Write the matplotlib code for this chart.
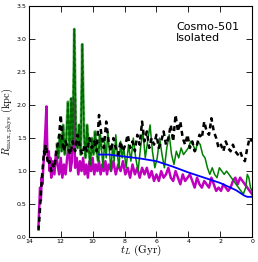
import numpy as np
import matplotlib
matplotlib.use("Agg")
import matplotlib.pyplot as plt

plt.rcParams['mathtext.fontset'] = 'cm'

# black dashed series
t_black = [13.40, 13.35, 13.30, 13.25, 13.20, 13.15, 13.10, 13.05, 13.00, 12.95, 12.90, 12.85,
           12.80, 12.70, 12.60, 12.50, 12.40, 12.30, 12.20, 12.10, 12.00, 11.90, 11.80, 11.70,
           11.55, 11.40, 11.25, 11.10, 10.95, 10.80, 10.65, 10.50, 10.35, 10.20, 10.05, 9.90,
           9.75, 9.60, 9.45, 9.30, 9.15, 9.00, 8.85, 8.70, 8.55, 8.40, 8.25, 8.10, 7.95, 7.80,
           7.65, 7.50, 7.35, 7.20, 7.05, 6.90, 6.75, 6.60, 6.45, 6.30, 6.15, 6.00, 5.85, 5.70,
           5.55, 5.40, 5.25, 5.10, 4.95, 4.80, 4.65, 4.50, 4.35, 4.20, 4.05, 3.90, 3.75, 3.60,
           3.45, 3.30, 3.15, 3.00, 2.85, 2.70, 2.55, 2.40, 2.25, 2.10, 1.95, 1.80, 1.65, 1.50,
           1.35, 1.20, 1.05, 0.90, 0.75, 0.60, 0.45, 0.30, 0.15, 0.00]
r_black = [0.10, 0.25, 0.45, 0.65, 0.85, 1.00, 1.15, 1.30, 1.25, 1.40, 1.35, 1.20,
           1.10, 1.15, 1.00, 1.10, 1.05, 1.25, 1.40, 1.55, 1.85, 1.45, 1.30, 1.45,
           1.35, 1.25, 1.45, 1.30, 1.55, 1.35, 1.25, 1.40, 1.30, 1.50, 1.35, 1.45,
           1.30, 1.85, 1.55, 1.35, 1.75, 1.45, 1.30, 1.50, 1.35, 1.25, 1.45, 1.30, 1.40, 1.55,
           1.35, 1.45, 1.30, 1.55, 1.40, 1.75, 1.45, 1.60, 1.35, 1.50, 1.40, 1.55, 1.35, 1.45,
           1.60, 1.40, 1.50, 1.70, 1.45, 1.85, 1.60, 1.75, 1.50, 1.40, 1.55, 1.35, 1.45, 1.30,
           1.40, 1.55, 1.50, 1.75, 1.60, 1.55, 1.80, 1.60, 1.50, 1.35, 1.40, 1.30, 1.45, 1.35,
           1.30, 1.40, 1.30, 1.25, 1.30, 1.20, 1.15, 1.35, 1.50, 1.45]

# green series
t_green = [12.25, 12.15, 12.05, 11.95, 11.85, 11.75, 11.65, 11.55, 11.45, 11.35, 11.25, 11.15,
           11.05, 10.95, 10.85, 10.75, 10.65, 10.55, 10.45, 10.35, 10.25, 10.15, 10.05, 9.95,
           9.85, 9.75, 9.65, 9.55, 9.45, 9.35, 9.25, 9.15, 9.05, 8.95, 8.85, 8.75, 8.65, 8.55,
           8.45, 8.35, 8.25, 8.15, 8.05, 7.90, 7.75, 7.60, 7.45, 7.30, 7.15, 7.00, 6.85, 6.70,
           6.55, 6.40, 6.25, 6.10, 5.95, 5.80, 5.65, 5.50, 5.35, 5.20, 5.05, 4.90, 4.75, 4.60,
           4.45, 4.30, 4.15, 4.00, 3.85, 3.70, 3.55, 3.40, 3.25, 3.10, 2.95, 2.80, 2.65, 2.50,
           2.35, 2.20, 2.05, 1.90, 1.75, 1.60, 1.45, 1.30, 1.15, 1.00, 0.85, 0.70, 0.55, 0.40,
           0.30, 0.20, 0.10, 0.00]
r_green = [1.40, 1.20, 1.55, 1.30, 1.70, 1.25, 1.50, 2.05, 1.30, 2.10, 1.40, 3.15,
           1.50, 1.35, 1.70, 1.25, 2.92, 1.60, 1.20, 1.70, 1.35, 1.10, 1.50, 1.25,
           1.60, 1.30, 1.15, 1.55, 1.35, 1.05, 1.45, 1.20, 1.60, 1.30, 1.00, 1.40, 1.15, 1.55,
           1.25, 1.05, 1.45, 1.20, 1.35, 1.05, 1.40, 1.15, 1.50, 1.20, 1.00, 1.35, 1.60, 1.20,
           1.45, 1.70, 1.30, 1.05, 1.20, 1.50, 1.25, 1.05, 1.35, 1.55, 1.25, 1.10, 1.30, 1.20,
           1.35, 1.25, 1.30, 1.35, 1.45, 1.40, 1.30, 1.45, 1.40, 1.25, 1.20, 1.05, 0.95, 1.05,
           0.95, 0.90, 1.05, 1.00, 0.95, 1.00, 0.95, 0.90, 0.85, 0.80, 0.75, 0.70, 0.65, 0.75,
           0.95, 0.90, 0.75, 0.70]

# magenta series
t_mag = [13.40, 13.35, 13.30, 13.25, 13.20, 13.15, 13.10, 13.05, 13.00, 12.95, 12.90, 12.85,
         12.80, 12.75, 12.70, 12.65, 12.60, 12.50, 12.40, 12.30, 12.20, 12.10, 12.00, 11.90,
         11.80, 11.70, 11.60, 11.50, 11.40, 11.30, 11.20, 11.10, 11.00, 10.90, 10.80, 10.70,
         10.60, 10.50, 10.40, 10.30, 10.20, 10.10, 10.00, 9.90, 9.80, 9.70, 9.60, 9.50, 9.40,
         9.30, 9.20, 9.10, 9.00, 8.85, 8.70, 8.55, 8.40, 8.25, 8.10, 7.95, 7.80, 7.65, 7.50,
         7.35, 7.20, 7.05, 6.90, 6.75, 6.60, 6.45, 6.30, 6.15, 6.00, 5.85, 5.70, 5.55, 5.40,
         5.25, 5.10, 4.95, 4.80, 4.65, 4.50, 4.35, 4.20, 4.05, 3.90, 3.75, 3.60, 3.45, 3.30,
         3.15, 3.00, 2.85, 2.70, 2.55, 2.40, 2.25, 2.10, 1.95, 1.80, 1.65, 1.50, 1.35, 1.20,
         1.05, 0.90, 0.75, 0.60, 0.45, 0.30, 0.15, 0.00]
r_mag = [0.15, 0.45, 0.75, 0.55, 0.90, 0.80, 1.05, 1.25, 1.45, 1.70, 1.98, 1.35,
         1.15, 1.30, 1.00, 1.20, 0.90, 1.15, 0.95, 1.30, 1.10, 0.95, 1.20, 0.90,
         1.10, 0.95, 1.20, 1.40, 1.00, 1.15, 2.10, 1.05, 1.20, 0.95, 1.15, 1.00,
         1.20, 0.95, 1.10, 0.90, 1.15, 1.00, 1.20, 0.95, 1.10, 1.00, 1.15, 0.95, 1.10,
         1.00, 1.15, 0.95, 1.10, 1.00, 1.15, 0.95, 1.10, 1.00, 1.15, 0.95, 1.05, 0.90, 1.10,
         0.95, 1.05, 0.90, 1.05, 0.95, 1.05, 0.90, 1.00, 0.85, 0.95, 0.85, 1.00, 0.90, 0.95,
         1.05, 0.90, 0.85, 1.00, 0.90, 0.80, 0.95, 0.85, 0.90, 0.95, 0.85, 0.75, 0.90, 0.80,
         0.75, 0.85, 0.80, 0.75, 0.90, 0.80, 0.70, 0.75, 0.70, 0.80, 0.75, 0.70, 0.75, 0.85,
         0.90, 0.80, 0.90, 0.85, 0.80, 0.75, 0.70, 0.65]

# blue smooth series
t_blue = [9.6, 9.0, 8.0, 7.0, 6.0, 5.0, 4.0, 3.0, 2.0, 1.0, 0.5, 0.3, 0.0]
r_blue = [1.25, 1.25, 1.22, 1.19, 1.15, 1.07, 0.98, 0.90, 0.82, 0.71, 0.63, 0.61, 0.61]

t_green = np.array(t_green)
r_green = np.array(r_green)
early = t_green >= 9.4

fig = plt.figure(figsize=(2.58, 2.62), dpi=100)
ax = fig.add_axes([0.112, 0.095, 0.865, 0.882])

ax.plot(t_mag, r_mag, color='m', lw=1.8)
ax.plot(t_green, r_green, color='g', lw=1.1)
ax.plot(t_green[early], r_green[early], color='g', lw=2.2, alpha=0.5)
ax.plot(t_green[early], r_green[early], color='darkgreen', lw=1.2, dashes=(2, 1.5))
ax.plot(t_blue, r_blue, color='b', lw=1.3)
ax.plot(t_black, r_black, color='k', lw=1.8, dashes=(2, 1.5))

ax.set_xlim(14, 0)
ax.set_ylim(0, 3.5)
ax.set_xticks([14, 12, 10, 8, 6, 4, 2, 0])
ax.set_yticks([0.0, 0.5, 1.0, 1.5, 2.0, 2.5, 3.0, 3.5])
ax.set_yticklabels(['0.0', '0.5', '1.0', '1.5', '2.0', '2.5', '3.0', '3.5'])
ax.tick_params(direction='in', top=True, right=True, labelsize=4.5, length=4, width=0.6, pad=1.5)

ax.set_xlabel(r'$t_L\ \mathrm{(Gyr)}$', fontsize=8)
ax.set_ylabel(r'$R_{\rm max,phys}\ \mathrm{(kpc)}$', fontsize=7.5)
ax.xaxis.set_label_coords(0.5, -0.025)
ax.yaxis.set_label_coords(-0.062, 0.5)

ax.text(0.66, 0.93, 'Cosmo-501\nIsolated', transform=ax.transAxes, fontsize=8,
        va='top', ha='left', linespacing=1.1)

fig.savefig('out.png', dpi=100)
